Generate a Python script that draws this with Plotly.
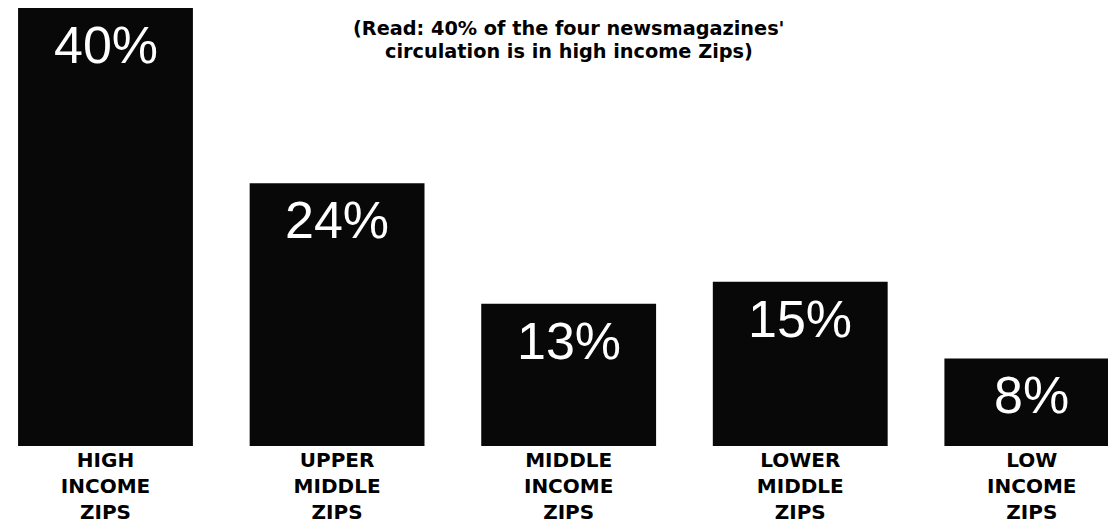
import plotly.graph_objects as go

categories = ["HIGH<br>INCOME<br>ZIPS", "UPPER<br>MIDDLE<br>ZIPS", "MIDDLE<br>INCOME<br>ZIPS",
              "LOWER<br>MIDDLE<br>ZIPS", "LOW<br>INCOME<br>ZIPS"]
values = [40, 24, 13, 15, 8]
value_labels = ["40%", "24%", "13%", "15%", "8%"]
note_lines = ["(Read: 40% of the four newsmagazines'", "circulation is in high income Zips)"]

fig = go.Figure()
fig.add_trace(go.Bar(
    x=categories, y=values,
    marker=dict(color="#080808", line=dict(width=0)),
    hoverinfo="skip", cliponaxis=False,
))

for c, v, lab in zip(categories, values, value_labels):
    fig.add_annotation(x=c, y=v, text=lab, showarrow=False, yanchor="top", yshift=-6,
                       font=dict(family="Liberation Sans, Arial", size=52, color="white"))

for i, line in enumerate(note_lines):
    fig.add_annotation(xref="paper", yref="paper", x=0.503, y=1, xanchor="center", yanchor="top",
                       yshift=-7 - 23 * i, text="<b>" + line + "</b>", showarrow=False,
                       font=dict(family="DejaVu Sans", size=19.3, color="black"))

fig.update_layout(
    width=1116, height=530,
    margin=dict(l=0, r=0, t=0, b=92, pad=0),
    paper_bgcolor="white", plot_bgcolor="white",
    bargap=0.245, showlegend=False,
    xaxis=dict(range=[-0.421, 4.398], showgrid=False, zeroline=False, showline=False, ticks="",
               tickfont=dict(family="DejaVu Sans", size=20, color="black"),
               tickvals=categories, ticktext=["<b>" + c + "</b>" for c in categories]),
    yaxis=dict(range=[0, 40], visible=False),
)

fig.write_html("out.html")
